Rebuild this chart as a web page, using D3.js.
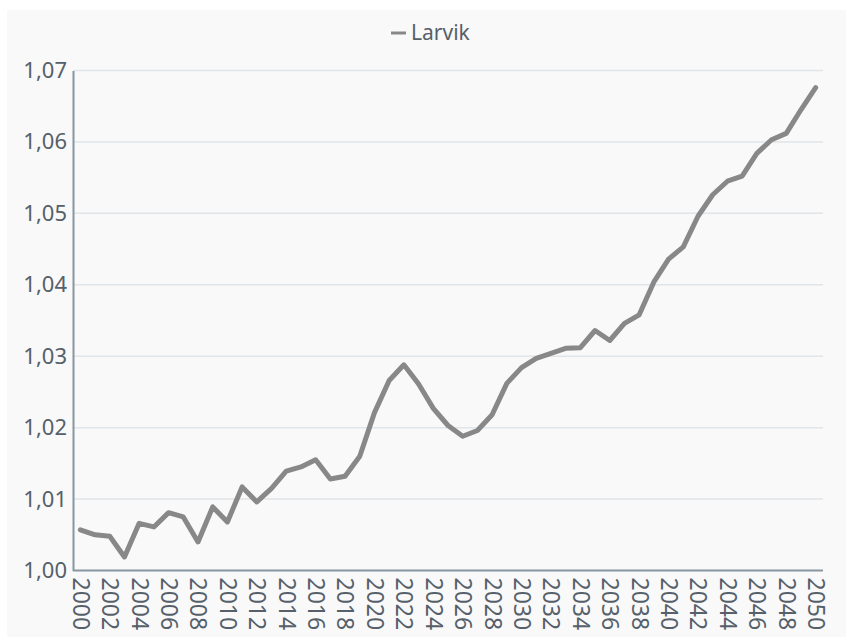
<html>
  <head>
    <script src="https://d3js.org/d3.v7.min.js"></script>
    <style>
      body { margin: 0; background: #ffffff; }
      text { font-family: "Noto Sans", "Open Sans", sans-serif; fill: #55606a; }
    </style>
  </head>
  <body>
    <script>
      // Series data
      var seriesName = "Larvik";
      var years = d3.range(2000, 2051);
      var values = [
        1.0057, 1.0050, 1.0048, 1.0019, 1.0066, 1.0061, 1.0081, 1.0075, 1.0040, 1.0089,
        1.0068, 1.0117, 1.0096, 1.0115, 1.0139, 1.0145, 1.0155, 1.0128, 1.0132, 1.0160,
        1.0221, 1.0266, 1.0288, 1.0261, 1.0227, 1.0203, 1.0188, 1.0196, 1.0218, 1.0262,
        1.0284, 1.0297, 1.0304, 1.0311, 1.0312, 1.0336, 1.0322, 1.0346, 1.0358, 1.0404,
        1.0436, 1.0453, 1.0496, 1.0526, 1.0545, 1.0552, 1.0584, 1.0603, 1.0612, 1.0645,
        1.0676
      ];
      var yTicks = [1.00, 1.01, 1.02, 1.03, 1.04, 1.05, 1.06, 1.07];
      var xTickYears = years.filter(function(d) { return d % 2 === 0; });

      var width = 846, height = 637;
      // plot box (note: "top" is reserved on window, so use plot* names)
      var plotLeft = 73, plotRight = 823, plotTop = 70.5, plotBottom = 570.5;

      var svg = d3.select("body").append("svg")
                  .attr("width", width).attr("height", height);

      // panel background
      svg.append("rect")
         .attr("x", 7).attr("y", 10)
         .attr("width", width - 7).attr("height", height - 10)
         .attr("fill", "#f9f9f9");

      var x = d3.scalePoint().domain(years).range([plotLeft, plotRight]).padding(0.5);
      var y = d3.scaleLinear().domain([1.00, 1.07]).range([plotBottom, plotTop]);

      var fmt = function(d) { return d.toFixed(2).replace(".", ","); };

      // gridlines
      svg.append("g").selectAll("line")
         .data(yTicks.slice(1))
         .enter().append("line")
         .attr("x1", plotLeft).attr("x2", plotRight)
         .attr("y1", function(d) { return y(d); })
         .attr("y2", function(d) { return y(d); })
         .attr("stroke", "#dfe5e9")
         .attr("stroke-width", 1.5);

      // y axis
      var yAxis = svg.append("g")
                     .attr("transform", "translate(" + plotLeft + ",0)")
                     .call(d3.axisLeft(y).tickValues(yTicks).tickFormat(fmt).tickSize(0).tickPadding(6));
      yAxis.select(".domain").attr("stroke", "#8796a1").attr("stroke-width", 2);
      yAxis.selectAll("text")
           .attr("font-size", "22px")
           .attr("fill", "#55606a")
           .style("font-family", "'Noto Sans', sans-serif");

      // x axis
      var xAxis = svg.append("g")
                     .attr("transform", "translate(0," + plotBottom + ")")
                     .call(d3.axisBottom(x).tickValues(xTickYears).tickSize(0));
      xAxis.select(".domain")
           .attr("d", "M" + plotLeft + ",0H" + plotRight)
           .attr("stroke", "#8796a1").attr("stroke-width", 2);
      xAxis.selectAll("text")
           .attr("font-size", "23px")
           .attr("fill", "#55606a")
           .style("font-family", "'Noto Sans', sans-serif")
           .attr("text-anchor", "start")
           .attr("transform", "rotate(90)")
           .attr("x", 7)
           .attr("y", 0)
           .attr("dy", "0.35em");

      // line
      var line = d3.line()
                   .x(function(d, i) { return x(years[i]); })
                   .y(function(d) { return y(d); });

      svg.append("path")
         .datum(values)
         .attr("d", line)
         .attr("fill", "none")
         .attr("stroke", "#888888")
         .attr("stroke-width", 5)
         .attr("stroke-linejoin", "round")
         .attr("stroke-linecap", "round");

      // legend
      var legend = svg.append("g").attr("transform", "translate(391,33)");
      legend.append("line")
            .attr("x1", 0).attr("x2", 15)
            .attr("y1", 0).attr("y2", 0)
            .attr("stroke", "#888888").attr("stroke-width", 3);
      legend.append("text")
            .attr("x", 20).attr("y", 0).attr("dy", "0.35em")
            .attr("font-size", "21px")
            .text(seriesName);
    </script>
  </body>
</html>
